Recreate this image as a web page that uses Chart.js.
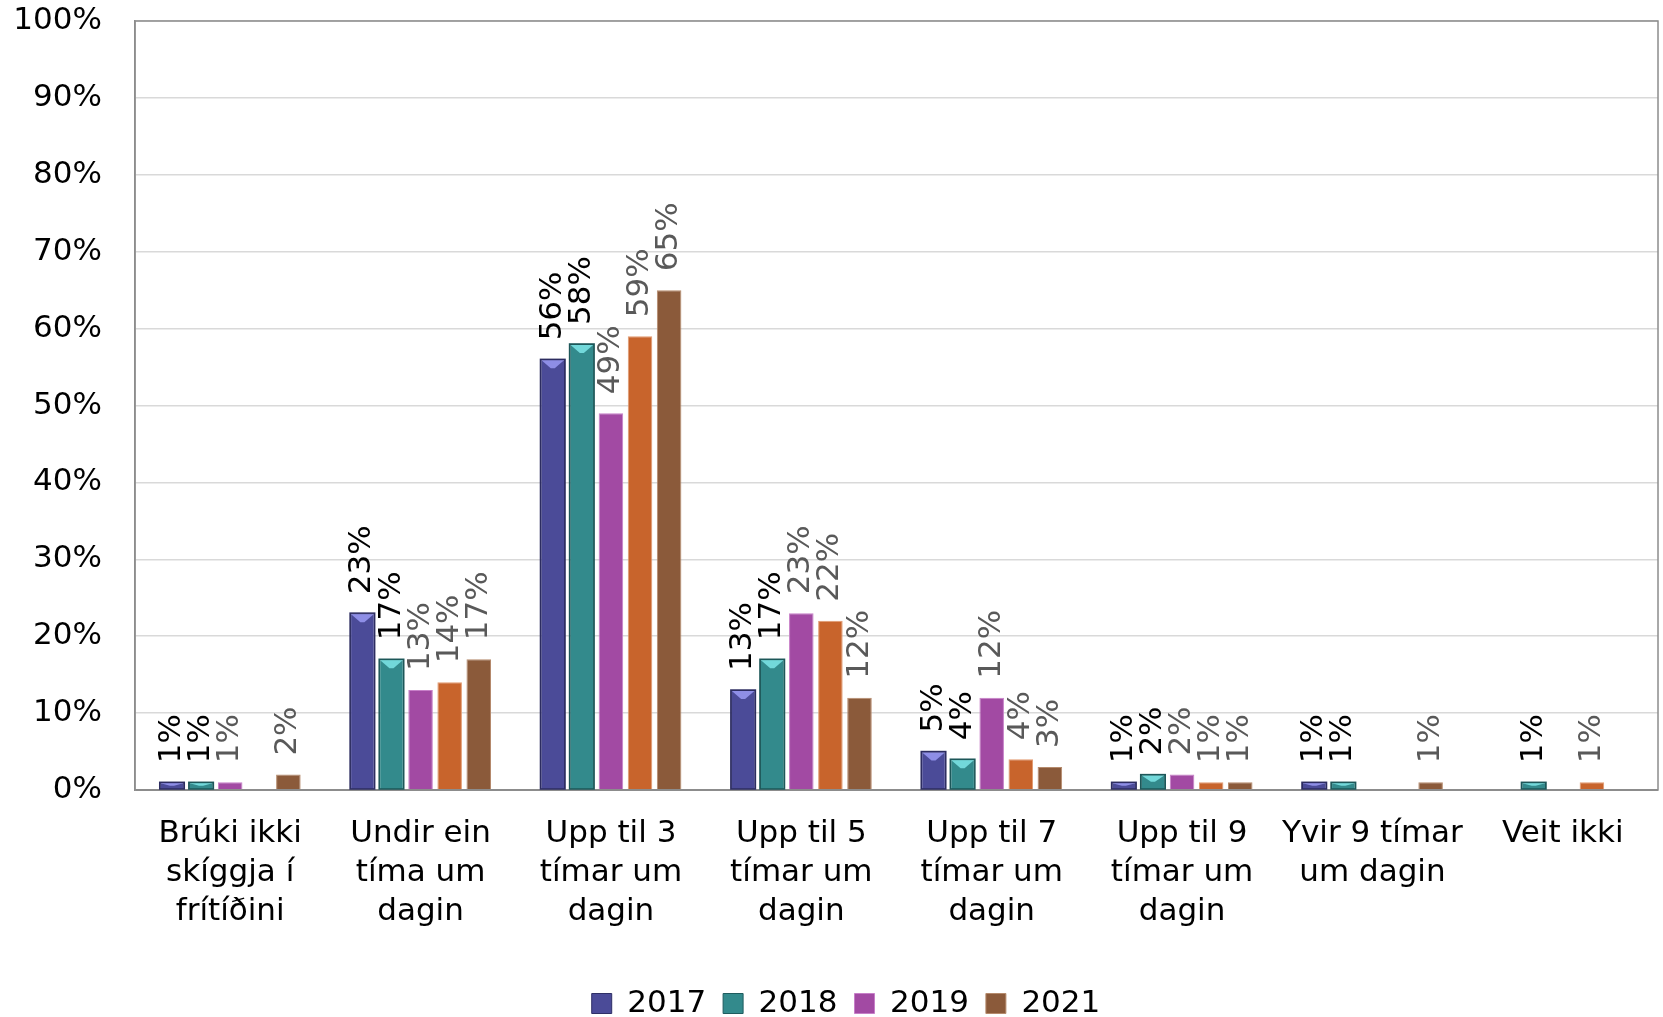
<!DOCTYPE html>
<html>
<head>
<meta charset="utf-8">
<script src="https://cdn.jsdelivr.net/npm/chart.js@4/dist/chart.umd.min.js"></script>
<style>
  html, body { margin: 0; padding: 0; background: #fff; }
  #wrap { width: 1663px; height: 1017px; }
</style>
</head>
<body>
<div id="wrap"><canvas id="skiggi_chart" width="1663" height="1017"></canvas></div>
<script>
const categories = [
  ['Brúki ikki', 'skíggja í', 'frítíðini'],
  ['Undir ein', 'tíma um', 'dagin'],
  ['Upp til 3', 'tímar um', 'dagin'],
  ['Upp til 5', 'tímar um', 'dagin'],
  ['Upp til 7', 'tímar um', 'dagin'],
  ['Upp til 9', 'tímar um', 'dagin'],
  ['Yvir 9 tímar', 'um dagin'],
  ['Veit ikki']
];

// percent per year, null = no answer in that group
const values2017 = [1, 23, 56, 13, 5, 1, 1, null];
const values2018 = [1, 17, 58, 17, 4, 2, 1, 1];
const values2019 = [1, 13, 49, 23, 12, 2, null, null];
const values2020 = [null, 14, 59, 22, 4, 1, null, 1];
const values2021 = [2, 17, 65, 12, 3, 1, 1, null];

const yTicks = [0, 10, 20, 30, 40, 50, 60, 70, 80, 90, 100];

const FONT = 'Verdana, "DejaVu Sans", sans-serif';
const FONT_SIZE = 31;

// data labels drawn vertically above each bar
const barLabels = {
  id: 'barLabels',
  afterDatasetsDraw(chart) {
    const ctx = chart.ctx;
    ctx.save();
    ctx.font = FONT_SIZE + 'px ' + FONT;
    ctx.textAlign = 'left';
    ctx.textBaseline = 'middle';
    chart.data.datasets.forEach((ds, i) => {
      const meta = chart.getDatasetMeta(i);
      ctx.fillStyle = i < 2 ? '#000000' : '#595959';
      meta.data.forEach((bar, j) => {
        const v = ds.data[j];
        if (v == null) return;
        ctx.save();
        ctx.translate(bar.x, bar.y - 19);
        ctx.rotate(-Math.PI / 2);
        ctx.fillText(v + '%', 0, 0);
        ctx.restore();
      });
    });
    ctx.restore();
  }
};

// bevelled look for the 2017 and 2018 bars
const bevel = {
  id: 'bevel',
  afterDatasetsDraw(chart) {
    const ctx = chart.ctx;
    const tops = ['#8e8ee6', '#72d8da'];
    const edges = ['#2c2c60', '#1d5759'];
    ctx.save();
    [0, 1].forEach(i => {
      chart.getDatasetMeta(i).data.forEach((bar, j) => {
        if (chart.data.datasets[i].data[j] == null) return;
        const l = bar.x - bar.width / 2, r = bar.x + bar.width / 2;
        const t = bar.y, b = bar.base;
        const h = b - t;
        const d = Math.min(9, h / 2);
        ctx.fillStyle = tops[i];
        ctx.beginPath();
        ctx.moveTo(l + 1, t + 1);
        ctx.lineTo(r - 1, t + 1);
        ctx.lineTo(bar.x + 2, t + d);
        ctx.lineTo(bar.x - 2, t + d);
        ctx.closePath();
        ctx.fill();
        ctx.strokeStyle = edges[i];
        ctx.lineWidth = 1.5;
        ctx.strokeRect(l, t, r - l, h);
      });
    });
    ctx.restore();
  }
};

// frame round the plot area
const frame = {
  id: 'frame',
  beforeDatasetsDraw(chart) {
    const a = chart.chartArea;
    const ctx = chart.ctx;
    ctx.save();
    ctx.strokeStyle = '#8c8c8c';
    ctx.lineWidth = 1.5;
    ctx.strokeRect(a.left, a.top, a.right - a.left, a.bottom - a.top);
    ctx.restore();
  }
};

// nudge the legend a little right of the canvas centre
const legendShift = {
  id: 'legendShift',
  afterLayout(chart) {
    chart.legend.left += 17;
    chart.legend.right += 17;
  }
};

Chart.defaults.font.family = FONT;
Chart.defaults.color = '#000';

new Chart(document.getElementById('skiggi_chart'), {
  type: 'bar',
  data: {
    labels: categories,
    datasets: [
      { label: '2017', data: values2017, backgroundColor: '#4b4b98', borderColor: '#2f2f66', borderWidth: 1 },
      { label: '2018', data: values2018, backgroundColor: '#338a8c', borderColor: '#1f5c5e', borderWidth: 1 },
      { label: '2019', data: values2019, backgroundColor: '#a24aa3', borderColor: '#c77fc8', borderWidth: 1 },
      { label: '2020', data: values2020, backgroundColor: '#c8642c', borderColor: '#e29a70', borderWidth: 1 },
      { label: '2021', data: values2021, backgroundColor: '#8b5a3a', borderColor: '#b58a6c', borderWidth: 1 }
    ]
  },
  options: {
    responsive: false,
    animation: false,
    devicePixelRatio: 1,
    layout: { padding: { top: 21, right: 5, left: 0, bottom: -12 } },
    datasets: {
      bar: { categoryPercentage: 0.764, barPercentage: 0.844 }
    },
    plugins: {
      tooltip: { enabled: false },
      legend: {
        position: 'bottom',
        labels: {
          font: { size: FONT_SIZE },
          color: '#000',
          boxWidth: 20,
          boxHeight: 20,
          padding: 17,
          filter: item => item.text !== '2020'
        }
      }
    },
    scales: {
      x: {
        grid: { display: false },
        border: { display: false },
        ticks: {
          font: { size: FONT_SIZE, lineHeight: 1.26 },
          color: '#000',
          padding: 16,
          maxRotation: 0,
          autoSkip: false
        },
        afterFit(scale) { scale.height = 181; }
      },
      y: {
        min: 0,
        max: 100,
        afterBuildTicks(scale) { scale.ticks = yTicks.map(v => ({ value: v })); },
        grid: {
          drawTicks: false,
          color: ctx => ctx.tick && ctx.tick.value === 0 ? '#8c8c8c' : '#d9d9d9',
          lineWidth: ctx => ctx.tick && ctx.tick.value === 0 ? 2 : 1.5
        },
        border: { color: '#8c8c8c', width: 1.5 },
        ticks: {
          font: { size: FONT_SIZE },
          color: '#000',
          padding: 33,
          callback: v => v + '%'
        },
        afterFit(scale) {
          scale.width = 135;
          scale.paddingTop = 0;
          scale.paddingBottom = 0;
        }
      }
    }
  },
  plugins: [frame, bevel, barLabels, legendShift]
});
</script>
</body>
</html>
